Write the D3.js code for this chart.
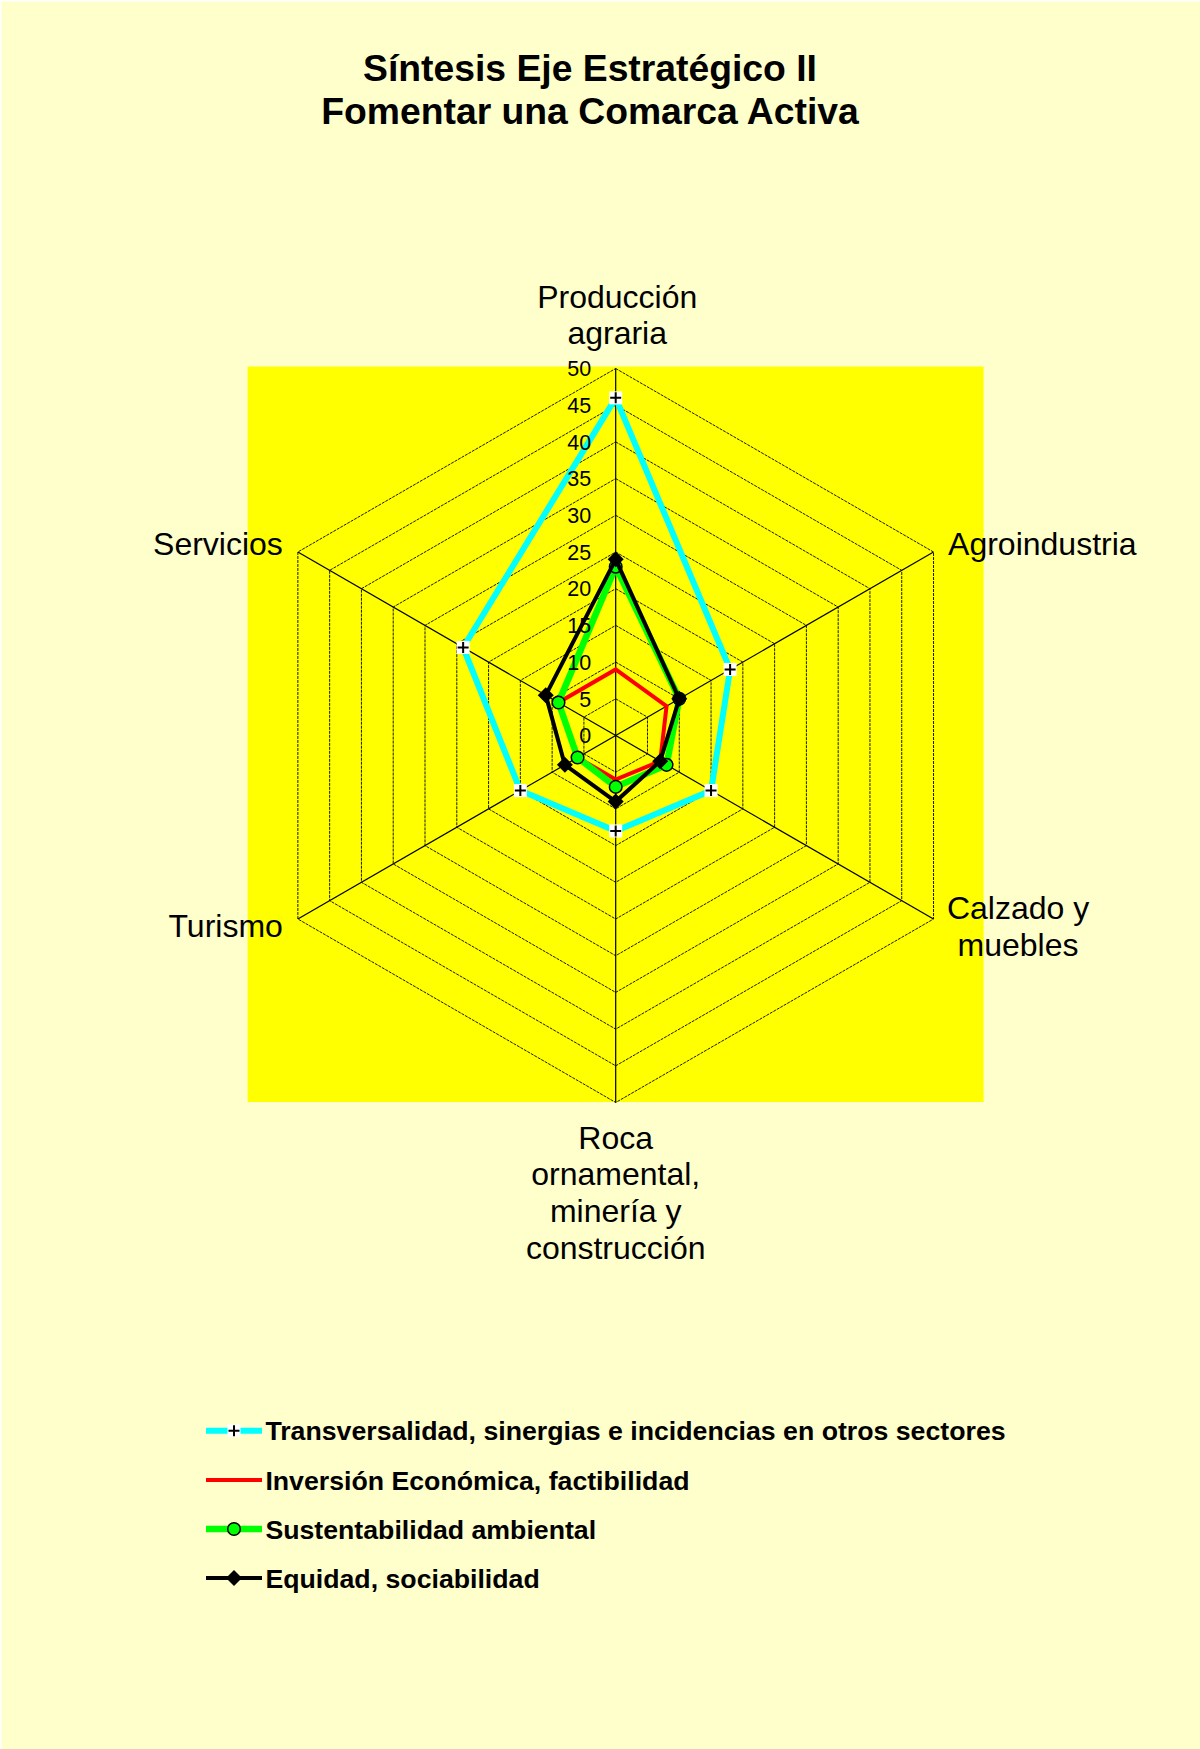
<!DOCTYPE html>
<html>
<head>
<meta charset="utf-8">
<script src="https://cdn.jsdelivr.net/npm/d3@7"></script>
<style>
  html, body { margin: 0; padding: 0; background: #ffffff; }
  svg { display: block; }
  text { font-family: "Liberation Sans", Arial, sans-serif; fill: #000; }
</style>
</head>
<body>
<svg id="chart" width="1200" height="1749"></svg>
<script>
// Axes of the radar, clockwise from the top
const categories = [
  ["Producción", "agraria"],
  ["Agroindustria"],
  ["Calzado y", "muebles"],
  ["Roca", "ornamental,", "minería y", "construcción"],
  ["Turismo"],
  ["Servicios"]
];

// Series values, one per axis
const transversalidad = [46, 18, 15, 13, 15, 24];
const inversion       = [9, 8, 7, 6, 6, 9];
const sustentabilidad = [23, 10, 8, 7, 6, 9];
const equidad         = [24, 10, 7, 9, 8, 11];

const tickValues = [0, 5, 10, 15, 20, 25, 30, 35, 40, 45, 50];

const seriesNames = [
  "Transversalidad, sinergias e incidencias en otros sectores",
  "Inversión Económica, factibilidad",
  "Sustentabilidad ambiental",
  "Equidad, sociabilidad"
];

const titleLines = ["Síntesis Eje Estratégico II", "Fomentar una Comarca Activa"];

// ---- layout ----
const W = 1200, H = 1749;
const cx = 615.7, cy = 735.5, R = 367;

const svg = d3.select("#chart");

// page background
svg.append("rect").attr("x", 1.5).attr("y", 1.5)
  .attr("width", W).attr("height", H).attr("fill", "#FFFFCC");

// title
svg.append("g").selectAll("text").data(titleLines).join("text")
  .attr("x", 590).attr("y", (d, i) => 81 + i * 43)
  .attr("text-anchor", "middle")
  .style("font-size", "37.3px").style("font-weight", "bold")
  .text(d => d);

// plot area
svg.append("rect")
  .attr("x", 247.6).attr("y", 366.5).attr("width", 736).attr("height", 735.5)
  .attr("fill", "#FFFF00");

const r = d3.scaleLinear().domain([0, 50]).range([0, R]);
const angle = d3.scaleLinear().domain([0, categories.length]).range([0, 2 * Math.PI]);
const px = (i, v) => cx + r(v) * Math.sin(angle(i));
const py = (i, v) => cy - r(v) * Math.cos(angle(i));

const idx = d3.range(categories.length);

// rings
const g = svg.append("g");
g.selectAll("path.ring").data(tickValues.filter(v => v > 0)).join("path")
  .attr("class", "ring")
  .attr("d", v => d3.line()(idx.map(i => [px(i, v), py(i, v)])) + "Z")
  .attr("fill", "none").attr("stroke", "#000")
  .attr("stroke-width", 0.9).attr("stroke-dasharray", "3,1");

// spokes
g.selectAll("line.spoke").data(idx).join("line")
  .attr("class", "spoke")
  .attr("x1", cx).attr("y1", cy)
  .attr("x2", i => px(i, 50)).attr("y2", i => py(i, 50))
  .attr("stroke", "#000").attr("stroke-width", 1.2);

// category labels
const labelPos = [
  { x: cx + 1.5, y: py(0, 50) - 61, anchor: "middle" },
  { x: px(1, 50) + 14.5, y: py(1, 50) + 3, anchor: "start" },
  { x: px(2, 50) + 84.5, y: py(2, 50), anchor: "middle" },
  { x: cx, y: py(3, 50) + 46, anchor: "middle" },
  { x: px(4, 50) - 15, y: py(4, 50) + 18, anchor: "end" },
  { x: px(5, 50) - 15, y: py(5, 50) + 3, anchor: "end" }
];
categories.forEach((lines, i) => {
  const t = svg.append("text")
    .attr("x", labelPos[i].x).attr("y", labelPos[i].y)
    .attr("text-anchor", labelPos[i].anchor)
    .style("font-size", "32px");
  lines.forEach((s, j) => {
    t.append("tspan").attr("x", labelPos[i].x).attr("dy", j === 0 ? 0 : 36.8).text(s);
  });
});

// ---- series ----
const series = [
  { values: transversalidad, color: "#00FFFF", width: 6, marker: "plus" },
  { values: inversion, color: "#FF0000", width: 4, marker: "none" },
  { values: sustentabilidad, color: "#00FF00", width: 6.5, marker: "circle" },
  { values: equidad, color: "#000000", width: 4, marker: "diamond" }
];

function drawMarker(sel, type) {
  if (type === "plus") {
    sel.append("rect").attr("x", -6.5).attr("y", -6.5).attr("width", 13).attr("height", 13)
      .attr("fill", "#FFFFFF");
    sel.append("path").attr("d", "M-5.5,0H5.5M0,-5.5V5.5")
      .attr("stroke", "#000").attr("stroke-width", 2);
  } else if (type === "circle") {
    sel.append("circle").attr("r", 6.3).attr("fill", "#00FF00")
      .attr("stroke", "#000").attr("stroke-width", 1.5);
  } else if (type === "diamond") {
    sel.append("path").attr("d", "M0,-8L8,0L0,8L-8,0Z").attr("fill", "#000");
  }
}

const radial = d3.lineRadial()
  .angle((d, i) => angle(i))
  .radius(d => r(d))
  .curve(d3.curveLinearClosed);

series.forEach(s => {
  const sg = svg.append("g").attr("transform", `translate(${cx},${cy})`);
  sg.append("path").datum(s.values)
    .attr("d", radial)
    .attr("fill", "none").attr("stroke", s.color)
    .attr("stroke-width", s.width).attr("stroke-linejoin", "miter");
  if (s.marker !== "none") {
    sg.selectAll("g.m").data(s.values).join("g")
      .attr("class", "m")
      .attr("transform", (d, i) => `translate(${px(i, d) - cx},${py(i, d) - cy})`)
      .each(function () { drawMarker(d3.select(this), s.marker); });
  }
});

// tick labels along the top axis, above the series
svg.append("g").selectAll("text.tick").data(tickValues).join("text")
  .attr("class", "tick")
  .attr("x", cx - 24.5).attr("y", v => cy - r(v))
  .attr("dy", "0.36em")
  .attr("text-anchor", "end")
  .style("font-size", "21.5px")
  .text(v => v);

// ---- legend ----
const legend = svg.append("g");
series.forEach((s, i) => {
  const y = 1430.8 + i * 49.1;
  const row = legend.append("g").attr("transform", `translate(0,${y})`);
  row.append("line").attr("x1", 206).attr("x2", 262).attr("y1", 0).attr("y2", 0)
    .attr("stroke", s.color).attr("stroke-width", s.width);
  if (s.marker !== "none") {
    const m = row.append("g").attr("transform", "translate(234,0)");
    drawMarker(m, s.marker);
  }
  row.append("text").attr("x", 265.4).attr("y", 0).attr("dy", "0.36em")
    .style("font-size", "26.7px").style("font-weight", "bold")
    .text(seriesNames[i]);
});
</script>
</body>
</html>
